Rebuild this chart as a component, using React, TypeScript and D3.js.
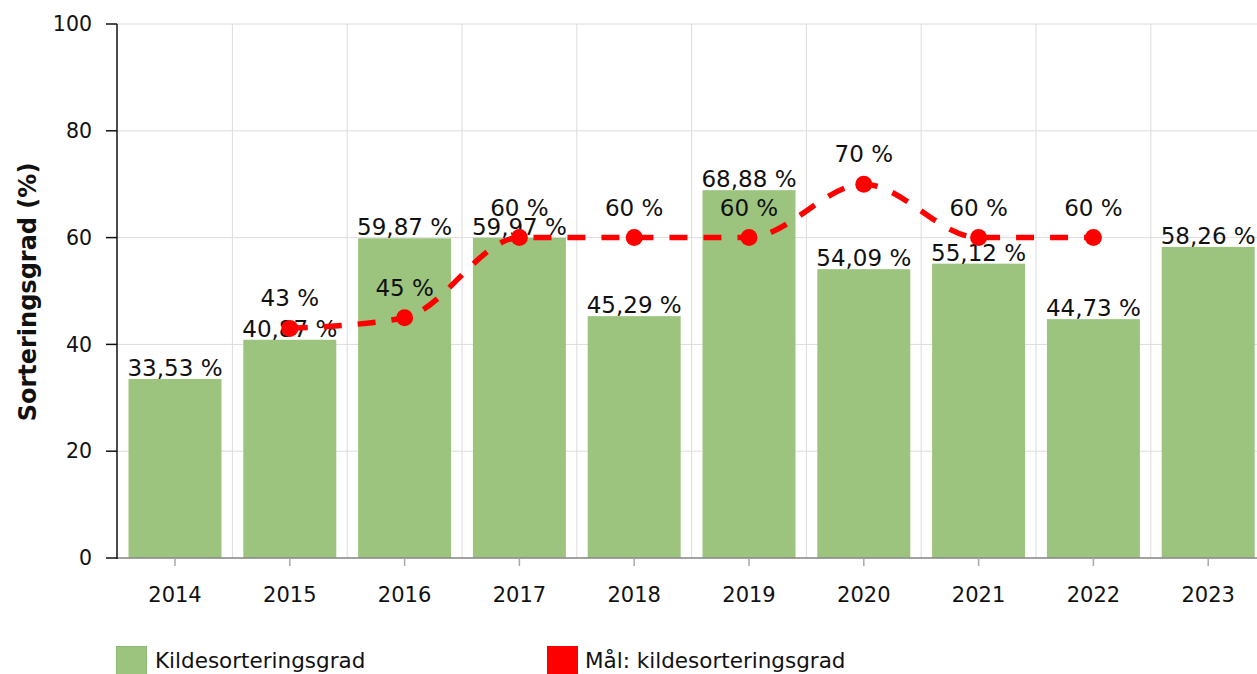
import React from "react";
import * as d3 from "d3";

const years = ["2014", "2015", "2016", "2017", "2018", "2019", "2020", "2021", "2022", "2023"];
const sortValues = [33.53, 40.87, 59.87, 59.97, 45.29, 68.88, 54.09, 55.12, 44.73, 58.26];
const goalYears = ["2015", "2016", "2017", "2018", "2019", "2020", "2021", "2022"];
const goalValues = [43, 45, 60, 60, 60, 70, 60, 60];
const yTicks = [0, 20, 40, 60, 80, 100];
const seriesNames = ["Kildesorteringsgrad", "Mål: kildesorteringsgrad"];
const yTitle = "Sorteringsgrad (%)";

const W = 1257;
const H = 674;
const FONT = "Verdana, 'DejaVu Sans', sans-serif";
const fmt = (v: number) => String(v).replace(".", ",") + " %";

export default function App() {
  const x = d3.scaleBand<string>().domain(years).range([117.6, 1265.6]).padding(0);
  const y = d3.scaleLinear().domain([0, 100]).range([558, 24]);
  const bw = x.bandwidth() * 0.81;
  const cx = (c: string) => (x(c) as number) + x.bandwidth() / 2;

  const goalPts: [number, number][] = goalYears.map((c, i) => [cx(c), y(goalValues[i])]);
  const line = d3.line().curve(d3.curveMonotoneX)(goalPts) || "";

  return (
    <svg width={W} height={H} style={{ position: "absolute", left: 0, top: 0, fontFamily: FONT }}>
      {/* grid */}
      {yTicks.map((t) => (
        <line key={"gy" + t} x1={117} x2={W} y1={y(t)} y2={y(t)} stroke="#dcdcdc" strokeWidth={1} />
      ))}
      {years.slice(1).map((c) => (
        <line key={"gx" + c} x1={x(c) as number} x2={x(c) as number} y1={y(100)} y2={y(0)} stroke="#dcdcdc" strokeWidth={1} />
      ))}
      {/* bars */}
      {years.map((c, i) => (
        <rect key={"b" + c} x={cx(c) - bw / 2} y={y(sortValues[i])} width={bw} height={y(0) - y(sortValues[i])} fill="#9cc47f" />
      ))}
      {/* bar labels */}
      {years.map((c, i) => (
        <text key={"bl" + c} x={cx(c)} y={y(sortValues[i]) - 3} textAnchor="middle" fontSize={23} fill="#111">
          {fmt(sortValues[i])}
        </text>
      ))}
      {/* x axis */}
      <line x1={117} x2={W} y1={y(0)} y2={y(0)} stroke="#888" strokeWidth={1.5} />
      {years.map((c) => (
        <g key={"xt" + c}>
          <line x1={cx(c)} x2={cx(c)} y1={y(0)} y2={y(0) + 8} stroke="#aaa" strokeWidth={1.5} />
          <text x={cx(c)} y={602} textAnchor="middle" fontSize={21} fill="#111">{c}</text>
        </g>
      ))}
      {/* y axis */}
      <line x1={117} x2={117} y1={y(100)} y2={y(0) + 1} stroke="#111" strokeWidth={1.5} />
      {yTicks.map((t) => (
        <g key={"yt" + t}>
          <line x1={106} x2={117} y1={y(t)} y2={y(t)} stroke="#111" strokeWidth={1.5} />
          <text x={92} y={y(t)} dy="0.35em" textAnchor="end" fontSize={20.5} fill="#111">{t}</text>
        </g>
      ))}
      <text transform={`translate(36,292) rotate(-90)`} textAnchor="middle" fontSize={24} fontWeight="bold" fill="#111">
        {yTitle}
      </text>
      {/* goal line */}
      <path d={line} fill="none" stroke="#ff0000" strokeWidth={5.5} strokeDasharray="18,16" />
      {goalPts.map((p, i) => (
        <circle key={"gp" + i} cx={p[0]} cy={p[1]} r={8.5} fill="#ff0000" />
      ))}
      {goalPts.map((p, i) => (
        <text key={"gl" + i} x={p[0]} y={p[1] - 22} textAnchor="middle" fontSize={23} fill="#111">
          {fmt(goalValues[i])}
        </text>
      ))}
      {/* legend */}
      <rect x={116.5} y={646.5} width={30} height={30} fill="#9cc47f" stroke="#8cbc70" />
      <text x={155} y={668} fontSize={21.5} fill="#111">{seriesNames[0]}</text>
      <rect x={547} y={646} width={31} height={31} fill="#ff0000" />
      <text x={585} y={668} fontSize={21.5} fill="#111">{seriesNames[1]}</text>
    </svg>
  );
}
